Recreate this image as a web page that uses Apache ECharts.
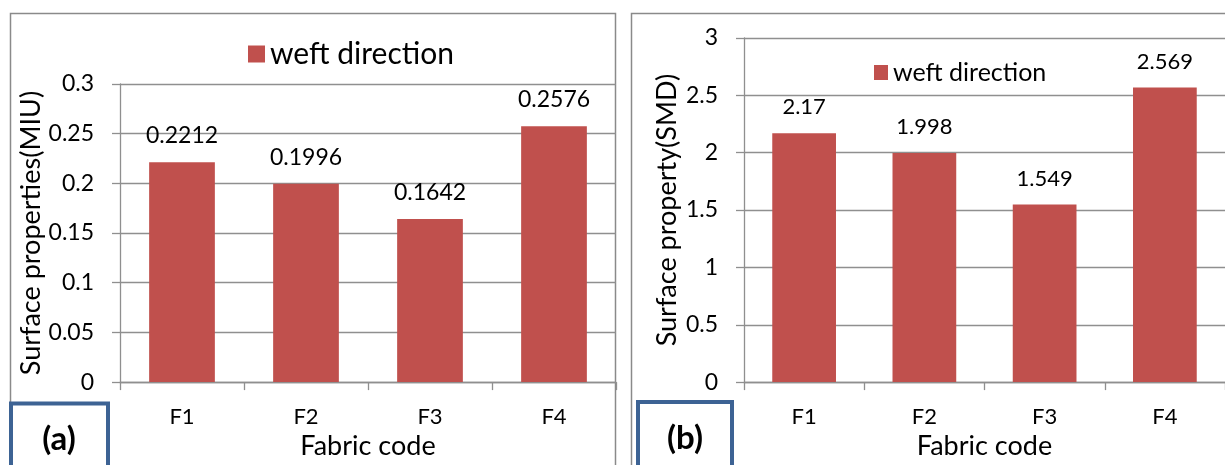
<!DOCTYPE html>
<html>
<head>
<meta charset="utf-8">
<script src="https://cdn.jsdelivr.net/npm/echarts@6/dist/echarts.min.js"></script>
<style>
  html, body { margin: 0; padding: 0; background: #fff; }
  #chart { width: 1225px; height: 465px; }
</style>
</head>
<body>
<div id="chart"></div>
<script>
// Fabric codes and weft-direction surface measurements
const categories = ['F1', 'F2', 'F3', 'F4'];
const miuWeft = [0.2212, 0.1996, 0.1642, 0.2576];   // coefficient of friction (MIU)
const smdWeft = [2.17, 1.998, 1.549, 2.569];        // surface roughness (SMD)
const seriesName = 'weft direction';
const panelTags = ['(a)', '(b)'];
const yTitles = ['Surface properties(MIU)', 'Surface property(SMD)'];
const xTitle = 'Fabric code';

const FONT = 'Lato';
const BAR = '#C0504D';
const GRID_GRAY = '#8f8f8f';
const TEXT = '#000';

const chart = echarts.init(document.getElementById('chart'), null, { renderer: 'canvas' });

function xAxisFor(gridIndex) {
  return {
    type: 'category',
    gridIndex,
    data: categories,
    name: xTitle,
    nameLocation: 'middle',
    nameGap: 50,
    nameTextStyle: { fontFamily: FONT, fontSize: 27, color: TEXT },
    axisLine: { show: true, lineStyle: { color: GRID_GRAY, width: 1.3 } },
    axisTick: { show: true, length: 8, alignWithLabel: false, lineStyle: { color: GRID_GRAY, width: 1.3 } },
    axisLabel: { fontFamily: FONT, fontSize: 22, color: TEXT, margin: 24 },
    splitLine: { show: false }
  };
}

function yAxisFor(gridIndex, max, interval, title, gap) {
  return {
    type: 'value',
    gridIndex,
    min: 0,
    max,
    interval,
    name: title,
    nameLocation: 'middle',
    nameRotate: 90,
    nameGap: gap,
    nameTextStyle: { fontFamily: FONT, fontSize: 27, color: TEXT },
    axisLine: { show: true, lineStyle: { color: GRID_GRAY, width: 1.3 } },
    axisTick: { show: true, length: 8, lineStyle: { color: GRID_GRAY, width: 1.3 } },
    axisLabel: { fontFamily: FONT, fontSize: 23, color: TEXT, margin: 26 },
    splitLine: { show: true, lineStyle: { color: GRID_GRAY, width: 1.3 } }
  };
}

function barSeries(idx, values, labelSize) {
  return {
    name: seriesName,
    type: 'bar',
    xAxisIndex: idx,
    yAxisIndex: idx,
    data: values,
    barWidth: '53%',
    itemStyle: { color: BAR },
    label: {
      show: true,
      position: 'top',
      distance: 15,
      fontFamily: FONT,
      fontSize: labelSize,
      color: TEXT,
      formatter: p => String(p.value)
    },
    emphasis: { disabled: true }
  };
}

// Panel frames and the lettered tag boxes
function panelGraphics() {
  const frameStyle = { fill: 'none', stroke: '#8a8a8a', lineWidth: 1.5 };
  const tagStyle = { fill: '#fff', stroke: '#3d6394', lineWidth: 4 };
  const tagText = (x, y, text) => ({
    type: 'text', z: 11, x, y, silent: true,
    style: { text, fontFamily: FONT, fontWeight: 'bold', fontSize: 33, fill: TEXT, align: 'center', verticalAlign: 'middle' }
  });
  return [
    { type: 'rect', z: -10, shape: { x: 10.5, y: 13.5, width: 605, height: 480 }, style: frameStyle, silent: true },
    { type: 'rect', z: -10, shape: { x: 631.5, y: 13.5, width: 640, height: 480 }, style: frameStyle, silent: true },
    { type: 'rect', z: 10, shape: { x: 11, y: 403.5, width: 97, height: 80 }, style: tagStyle, silent: true },
    { type: 'rect', z: 10, shape: { x: 638, y: 402, width: 94, height: 80 }, style: tagStyle, silent: true },
    tagText(59, 439, panelTags[0]),
    tagText(685, 438, panelTags[1])
  ];
}

chart.setOption({
  animation: false,
  backgroundColor: '#fff',
  textStyle: { fontFamily: FONT },
  legend: [
    {
      data: [seriesName],
      left: 243, top: 34,
      icon: 'rect', itemWidth: 17, itemHeight: 17, itemGap: 8,
      textStyle: { fontFamily: FONT, fontSize: 30, color: TEXT },
      selectedMode: false
    },
    {
      data: [seriesName],
      left: 869, top: 55,
      icon: 'rect', itemWidth: 14, itemHeight: 15, itemGap: 6,
      textStyle: { fontFamily: FONT, fontSize: 25, color: TEXT },
      selectedMode: false
    }
  ],
  grid: [
    { left: 120, top: 84, width: 496, height: 300 },
    { left: 744, top: 38, width: 488, height: 346 }
  ],
  xAxis: [xAxisFor(0), xAxisFor(1)],
  yAxis: [
    yAxisFor(0, 0.3, 0.05, yTitles[0], 72),
    yAxisFor(1, 3, 0.5, yTitles[1], 63)
  ],
  series: [barSeries(0, miuWeft, 23), barSeries(1, smdWeft, 22)],
  graphic: panelGraphics()
});
</script>
</body>
</html>
